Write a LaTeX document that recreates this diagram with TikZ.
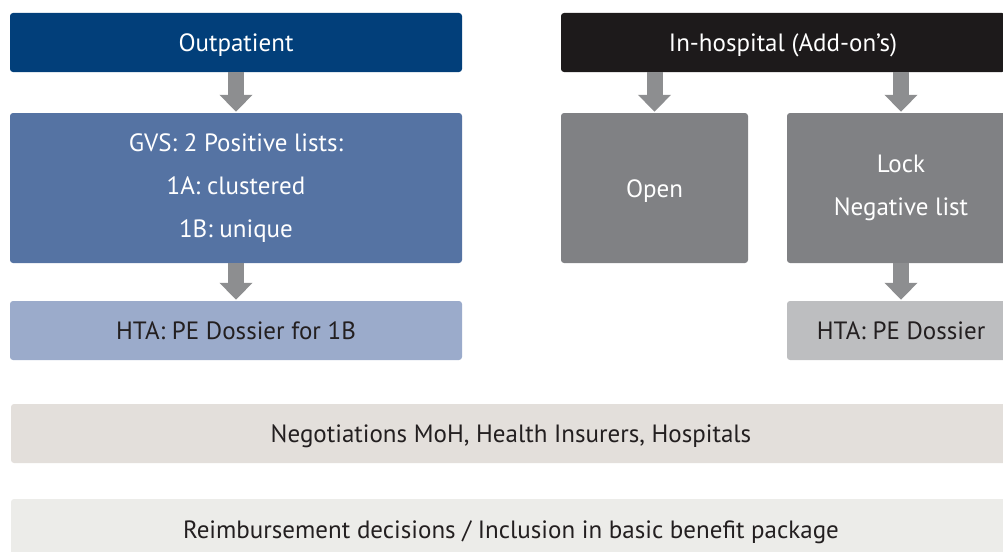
\documentclass[tikz,border=0pt]{standalone}
\usepackage{fontspec}
\setmainfont{PT Sans}
\usetikzlibrary{arrows.meta}
\definecolor{navy}{HTML}{023F7A}
\definecolor{ink}{HTML}{1D1A1B}
\definecolor{midblue}{HTML}{5573A3}
\definecolor{paleblue}{HTML}{9BABCB}
\definecolor{midgray}{HTML}{808184}
\definecolor{lightgray}{HTML}{BDBEC0}
\definecolor{arrowgray}{HTML}{8D8E90}
\definecolor{sand}{HTML}{E3DFDB}
\definecolor{mist}{HTML}{ECECE9}
\definecolor{textdark}{HTML}{231F20}
\tikzset{
  box/.style={rectangle, rounded corners=3pt, inner sep=0pt, align=center,
    font=\fontsize{25}{43}\selectfont},
  oneline/.style={text height=21pt, text depth=3pt},
  darkbox/.style={box, text=white},
  lightbox/.style={box, text=textdark},
  flow/.style={arrowgray, line width=16pt,
    -{Triangle[length=17pt, width=32pt]}, shorten >=1pt}
}
\begin{document}
\begin{tikzpicture}[x=1pt, y=-1pt]
\useasboundingbox (0,0) rectangle (1003,551);
% outpatient column
\node[darkbox, oneline, fill=navy, minimum width=452pt, minimum height=59pt] (out) at (236,42.5) {Outpatient};
\node[darkbox, fill=midblue, minimum width=452pt, minimum height=150pt] (gvs) at (236,188)
  {GVS: 2 Positive lists:\\1A: clustered\\1B: unique};
\node[lightbox, oneline, fill=paleblue, minimum width=452pt, minimum height=59pt] (htaL) at (236,330.5) {HTA: PE Dossier for 1B};
% in-hospital column
\node[darkbox, oneline, fill=ink, minimum width=444pt, minimum height=59pt] (inh) at (783,42.5) {In-hospital (Add-on’s)};
\node[darkbox, oneline, fill=midgray, minimum width=187pt, minimum height=150pt] (open) at (654.5,188) {Open};
\node[darkbox, fill=midgray, minimum width=228pt, minimum height=150pt] (lock) at (901,188) {Lock\\Negative list};
\node[lightbox, oneline, fill=lightgray, minimum width=228pt, minimum height=59pt] (htaR) at (901,330.5) {HTA: PE Dossier};
% bottom bands
\node[lightbox, oneline, fill=sand, minimum width=1000pt, minimum height=59pt] (neg) at (511,433.5) {Negotiations MoH, Health Insurers, Hospitals};
\node[lightbox, oneline, fill=mist, minimum width=1000pt, minimum height=60pt] (reimb) at (511,529) {Reimbursement decisions / Inclusion in basic benefit package};
% arrows
\draw[flow] (out.south) -- (gvs.north);
\draw[flow] (gvs.south) -- (htaL.north);
\draw[flow] (open.north |- inh.south) -- (open.north);
\draw[flow] (lock.north |- inh.south) -- (lock.north);
\draw[flow] (lock.south) -- (htaR.north);
\end{tikzpicture}
\end{document}
